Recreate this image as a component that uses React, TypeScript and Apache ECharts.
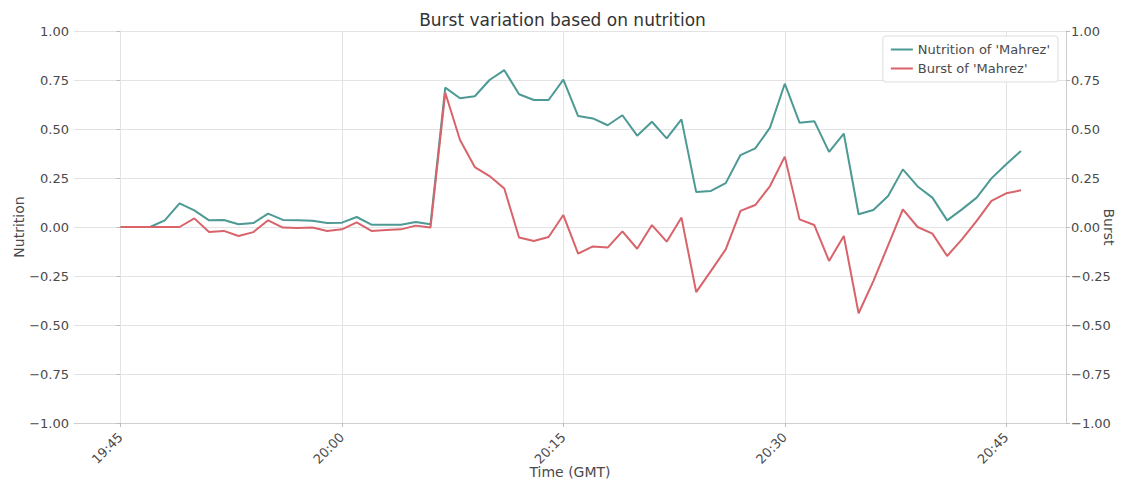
import React, { useEffect, useRef } from "react";
import * as echarts from "echarts";

// minutes after 19:45
const minutes = [
  0, 1, 2, 3, 4, 5, 6, 7, 8, 9, 10, 11, 12, 13, 14, 15, 16, 17, 18, 19, 20,
  21, 22, 23, 24, 25, 26, 27, 28, 29, 30, 31, 32, 33, 34, 35, 36, 37, 38, 39,
  40, 41, 42, 43, 44, 45, 46, 47, 48, 49, 50, 51, 52, 53, 54, 55, 56, 57, 58,
  59, 60, 61,
];

const nutrition = [
  0, 0, 0, 0.034, 0.121, 0.085, 0.034, 0.036, 0.014, 0.02, 0.068, 0.036, 0.034,
  0.032, 0.02, 0.022, 0.051, 0.012, 0.012, 0.012, 0.026, 0.014, 0.711, 0.657,
  0.667, 0.75, 0.8, 0.677, 0.648, 0.648, 0.752, 0.566, 0.554, 0.519, 0.57,
  0.466, 0.537, 0.452, 0.549, 0.178, 0.184, 0.224, 0.367, 0.401, 0.507, 0.731,
  0.532, 0.54, 0.383, 0.476, 0.065, 0.087, 0.158, 0.294, 0.207, 0.15, 0.034,
  0.09, 0.15, 0.248, 0.32, 0.388,
];

const burst = [
  0, 0, 0, 0, 0, 0.044, -0.026, -0.02, -0.046, -0.026, 0.034, -0.003, -0.005,
  -0.003, -0.02, -0.012, 0.024, -0.02, -0.015, -0.012, 0.007, -0.003, 0.685,
  0.444, 0.306, 0.26, 0.196, -0.054, -0.071, -0.051, 0.061, -0.136, -0.099,
  -0.105, -0.022, -0.111, 0.01, -0.075, 0.048, -0.332, -0.224, -0.114, 0.082,
  0.112, 0.209, 0.359, 0.039, 0.01, -0.173, -0.046, -0.44, -0.276, -0.094,
  0.09, 0.0, -0.034, -0.148, -0.063, 0.031, 0.133, 0.172, 0.187,
];

const xTickMinutes = [0, 15, 30, 45, 60];
const xTickLabels = ["19:45", "20:00", "20:15", "20:30", "20:45"];

const TEAL = "#4d9994";
const RED = "#d8636a";
const GRID = "#e3e3e3";
const TEXT = "#4a4a4a";
const FONT = "DejaVu Sans";

const fmtY = (v: number) => {
  const s = Math.abs(v).toFixed(2);
  return v < -1e-9 ? "\u2212" + s : s;
};

export default function App() {
  const ref = useRef<HTMLDivElement>(null);
  useEffect(() => {
    if (!ref.current) return;
    const chart = echarts.init(ref.current, undefined, { renderer: "svg" });
    const yAxisCommon = {
      type: "value",
      min: -1,
      max: 1,
      interval: 0.25,
      axisLine: { show: true, lineStyle: { color: "#cfcfcf", width: 1 } },
      axisTick: { show: true, length: 4, lineStyle: { color: "#bdbdbd" } },
      axisLabel: {
        color: TEXT,
        fontFamily: FONT,
        fontSize: 13,
        margin: 5,
        formatter: fmtY,
      },
      nameLocation: "middle",
      nameMoveOverlap: false,
      nameTextStyle: { color: TEXT, fontFamily: FONT, fontSize: 14 },
    };
    chart.setOption({
      animation: false,
      backgroundColor: "#ffffff",
      title: {
        text: "Burst variation based on nutrition",
        left: "center",
        top: 6,
        textStyle: {
          color: "#333333",
          fontFamily: FONT,
          fontSize: 17,
          fontWeight: "normal",
        },
      },
      legend: {
        right: 67,
        top: 36,
        orient: "vertical",
        itemWidth: 22,
        itemHeight: 2,
        itemGap: 6,
        padding: [7, 8, 7, 8],
        borderColor: "#dddddd",
        borderWidth: 1,
        borderRadius: 3,
        backgroundColor: "rgba(255,255,255,0.9)",
        icon: "rect",
        textStyle: { color: TEXT, fontFamily: FONT, fontSize: 13 },
        data: ["Nutrition of 'Mahrez'", "Burst of 'Mahrez'"],
      },
      grid: {
        left: 74,
        right: 59,
        top: 31,
        bottom: 64,
        containLabel: false,
        outerBoundsMode: "none",
      },
      xAxis: {
        type: "value",
        min: -3.15,
        max: 64.05,
        name: "Time (GMT)",
        nameLocation: "middle",
        nameMoveOverlap: false,
        nameGap: 42,
        nameTextStyle: { color: TEXT, fontFamily: FONT, fontSize: 14 },
        axisLine: { show: true, onZero: false, lineStyle: { color: "#cfcfcf" } },
        axisTick: {
          show: true,
          length: 4,
          customValues: xTickMinutes,
          lineStyle: { color: "#bdbdbd" },
        },
        axisLabel: {
          customValues: xTickMinutes,
          rotate: 45,
          color: TEXT,
          fontFamily: FONT,
          fontSize: 13,
          margin: 12,
          formatter: (v: number) => {
            const i = xTickMinutes.indexOf(Math.round(v));
            return i >= 0 ? xTickLabels[i] : "";
          },
        },
        splitLine: { show: false },
      },
      yAxis: [
        {
          ...yAxisCommon,
          position: "left",
          name: "Nutrition",
          nameGap: 48,
          splitLine: { show: true, lineStyle: { color: GRID, width: 1 } },
        },
        {
          ...yAxisCommon,
          position: "right",
          name: "Burst",
          nameGap: 36,
          nameRotate: -90,
          splitLine: { show: false },
        },
      ],
      series: [
        {
          name: "Nutrition of 'Mahrez'",
          type: "line",
          yAxisIndex: 0,
          data: minutes.map((m, i) => [m, nutrition[i]]),
          showSymbol: false,
          symbol: "none",
          lineStyle: { color: TEAL, width: 2 },
          itemStyle: { color: TEAL },
          z: 3,
          markLine: {
            silent: true,
            symbol: "none",
            label: { show: false },
            lineStyle: { color: GRID, width: 1, type: "solid" },
            data: xTickMinutes.map((m) => ({ xAxis: m })),
            z: 1,
          },
        },
        {
          name: "Burst of 'Mahrez'",
          type: "line",
          yAxisIndex: 1,
          data: minutes.map((m, i) => [m, burst[i]]),
          showSymbol: false,
          symbol: "none",
          lineStyle: { color: RED, width: 2 },
          itemStyle: { color: RED },
          z: 4,
        },
      ],
    });
    return () => chart.dispose();
  }, []);
  return (
    <div
      ref={ref}
      style={{ position: "fixed", left: 0, top: 0, width: 1125, height: 487 }}
    />
  );
}
